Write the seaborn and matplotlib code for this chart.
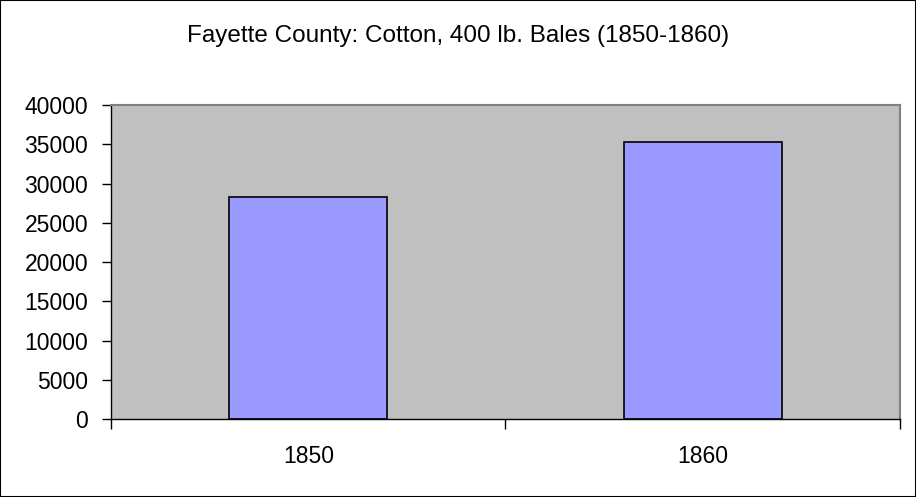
import pandas as pd
import seaborn as sns
import matplotlib.pyplot as plt
from matplotlib.patches import Rectangle

years = ["1850", "1860"]
bales = [28250, 35300]
y_ticks = [0, 5000, 10000, 15000, 20000, 25000, 30000, 35000, 40000]
title = "Fayette County: Cotton, 400 lb. Bales (1850-1860)"

df = pd.DataFrame({"year": years, "bales": bales})

sns.set_style("white")
plt.rcParams["font.family"] = ["Liberation Sans", "DejaVu Sans"]
plt.rcParams["text.color"] = "black"
plt.rcParams["xtick.color"] = "black"
plt.rcParams["ytick.color"] = "black"

fig = plt.figure(figsize=(9.16, 4.97), dpi=100)
ax = fig.add_axes([0.1212, 0.157, 0.8613, 0.6313])
ax.set_facecolor("#c0c0c0")

sns.barplot(data=df, x="year", y="bales", color="#9999ff", saturation=1,
            width=0.4, edgecolor="black", linewidth=1.2, ax=ax)

ax.set_xlim(-0.5, 1.5)
ax.set_ylim(0, 40000)
ax.set_yticks(y_ticks)
ax.set_xlabel("")
ax.set_ylabel("")

# ticks between categories, labels centred under bars
ax.set_xticks([-0.5, 0.5, 1.5], minor=True)
ax.tick_params(axis="x", which="major", length=0, labelsize=16.5, pad=19,
               labelcolor="black")
ax.tick_params(axis="x", which="minor", length=7, width=1, color="black", direction="out")
ax.tick_params(axis="y", length=6.5, width=1, color="black", direction="out",
               labelsize=16.5, pad=10, labelcolor="black")
ax.tick_params(bottom=True, left=True, which="both")

for side in ["left", "bottom"]:
    ax.spines[side].set_color("black")
    ax.spines[side].set_linewidth(1)
for side in ["top", "right"]:
    ax.spines[side].set_visible(True)
    ax.spines[side].set_color("#808080")
    ax.spines[side].set_linewidth(1.5)

fig.text(0.5, 0.928, title, ha="center", va="center", fontsize=17.5, color="black")

fig.patches.append(Rectangle((0, 0), 1, 1, transform=fig.transFigure,
                             fill=False, edgecolor="black", linewidth=1.5))

fig.savefig("out.png", dpi=100)
